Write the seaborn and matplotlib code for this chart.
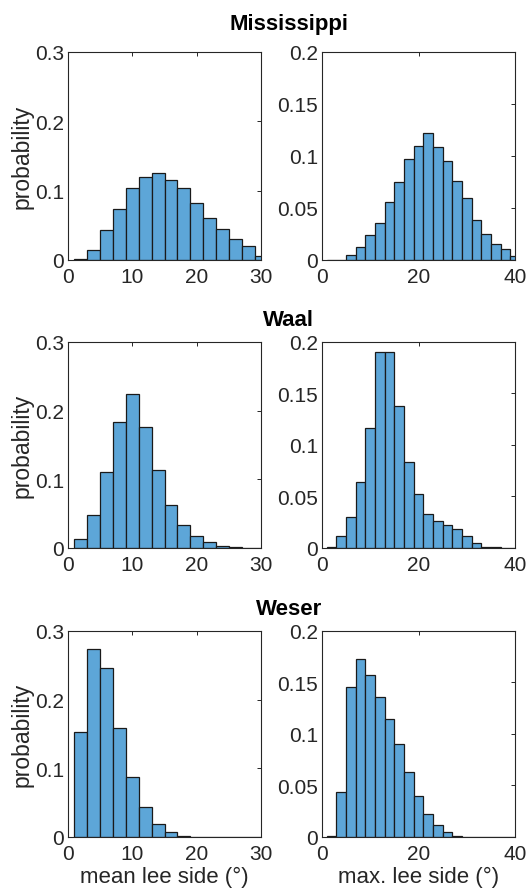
import numpy as np
import pandas as pd
import matplotlib
matplotlib.use("Agg")
import matplotlib.pyplot as plt
import seaborn as sns

# bin edges (2 degree bins, as in the reference)
mean_edges = np.arange(1, 33, 2)   # 1..31
max_edges = np.arange(1, 43, 2)    # 1..41

# probabilities per bin
miss_mean = [0.001, 0.014, 0.043, 0.074, 0.104, 0.119, 0.125, 0.116, 0.104,
             0.082, 0.061, 0.044, 0.030, 0.020, 0.006]
miss_max = [0.0, 0.0, 0.005, 0.0126, 0.024, 0.036, 0.056, 0.075, 0.097, 0.110,
            0.122, 0.109, 0.095, 0.076, 0.060, 0.038, 0.025, 0.015, 0.011, 0.004]
waal_mean = [0.013, 0.048, 0.111, 0.183, 0.224, 0.176, 0.113, 0.062, 0.033,
             0.017, 0.008, 0.003, 0.0015, 0.0005, 0.0]
waal_max = [0.001, 0.012, 0.030, 0.0645, 0.116, 0.190, 0.190, 0.138, 0.0836,
            0.052, 0.033, 0.026, 0.022, 0.0185, 0.0117, 0.0052, 0.0013, 0.0006,
            0.0, 0.0]
weser_mean = [0.153, 0.274, 0.246, 0.158, 0.087, 0.0437, 0.0194, 0.0073,
              0.002, 0.0005, 0.0, 0.0, 0.0005, 0.0005, 0.0003]
weser_max = [0.0013, 0.0437, 0.146, 0.1725, 0.157, 0.136, 0.115, 0.090, 0.0634,
             0.040, 0.0227, 0.0113, 0.005, 0.0013, 0.0003, 0.0003, 0.0003,
             0.0003, 0.0003, 0.0]

rivers = ["Mississippi", "Waal", "Weser"]
mean_data = [miss_mean, waal_mean, weser_mean]
max_data = [miss_max, waal_max, weser_max]

sns.set_theme(style="white")
plt.rcParams["font.family"] = ["Liberation Sans", "DejaVu Sans"]

BAR = "#5DA6D8"
EDGE = "#1a1a1a"
AXC = "#262626"

fig = plt.figure(figsize=(5.26, 8.95), dpi=100)

rows = [(0.7084, 0.2324), (0.3866, 0.2302), (0.0637, 0.2302)]
title_y = [0.9665, 0.6358, 0.3128]


def style_axes(ax, xlim, xticks, ylim, yticks):
    ax.set_xlim(*xlim)
    ax.set_ylim(*ylim)
    ax.set_xticks(xticks)
    ax.set_yticks(yticks)
    ax.set_yticklabels(["0" if v == 0 else f"{v:g}" for v in yticks])
    ax.tick_params(direction="in", length=3, width=0.7, colors=AXC,
                   labelsize=15, top=True, right=True)
    ax.tick_params(axis="x", pad=5)
    ax.tick_params(axis="y", pad=3)
    for s in ax.spines.values():
        s.set_visible(True)
        s.set_color(AXC)
        s.set_linewidth(0.8)
    ax.set_xlabel("")
    ax.set_ylabel("")


def hist(ax, edges, probs):
    df = pd.DataFrame({"angle": (edges[:-1] + edges[1:]) / 2, "p": probs})
    sns.histplot(data=df, x="angle", weights="p", bins=list(edges), ax=ax,
                 color=BAR, alpha=1, edgecolor=EDGE, linewidth=0.9)


for i, river in enumerate(rivers):
    y0, h = rows[i]
    ax1 = fig.add_axes([0.1293, y0, 0.3669, h])
    ax2 = fig.add_axes([0.6122, y0, 0.3669, h])

    hist(ax1, mean_edges, mean_data[i])
    hist(ax2, max_edges, max_data[i])

    style_axes(ax1, (0, 30), [0, 10, 20, 30], (0, 0.3), [0, 0.1, 0.2, 0.3])
    style_axes(ax2, (0, 40), [0, 20, 40], (0, 0.2), [0, 0.05, 0.1, 0.15, 0.2])

    ax1.set_ylabel("probability", fontsize=16.5, color=AXC, labelpad=1)
    if i == 2:
        ax1.set_xlabel("mean lee side (°)", fontsize=16, color=AXC, labelpad=2)
        ax2.set_xlabel("max. lee side (°)", fontsize=16, color=AXC, labelpad=2)

    fig.text(0.549, title_y[i], river, ha="center", va="baseline",
             fontsize=16, fontweight="bold", color="black")

fig.savefig("out.png", dpi=100, facecolor="white")
